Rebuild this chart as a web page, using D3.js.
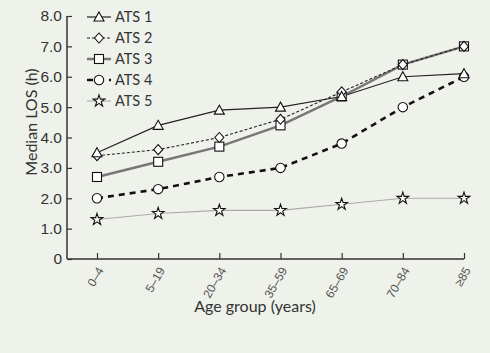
<!DOCTYPE html>
<html>
<head>
<meta charset="utf-8">
<script src="https://cdn.jsdelivr.net/npm/d3@7"></script>
<style>
  body { margin: 0; background: #eef2ea; }
  svg { display: block; font-family: Lato, "Open Sans", sans-serif; }
</style>
</head>
<body>
<div id="chart"></div>
<script>
const ageGroups = ["0–4", "5–19", "20–34", "35–59", "65–69", "70–84", "≥85"];
const yTicks = [0, 1, 2, 3, 4, 5, 6, 7, 8];
const ats1 = [3.5, 4.4, 4.9, 5.0, 5.35, 6.0, 6.1];
const ats2 = [3.4, 3.6, 4.0, 4.6, 5.5, 6.4, 7.0];
const ats3 = [2.7, 3.2, 3.7, 4.4, 5.35, 6.4, 7.0];
const ats4 = [2.0, 2.3, 2.7, 3.0, 3.8, 5.0, 6.0];
const ats5 = [1.3, 1.5, 1.6, 1.6, 1.8, 2.0, 2.0];

const series = [
  {name: "ATS 1", values: ats1, color: "#222", width: 1.2, dash: null, marker: "triangle"},
  {name: "ATS 2", values: ats2, color: "#222", width: 1.1, dash: "3,2", marker: "diamond"},
  {name: "ATS 3", values: ats3, color: "#777", width: 2.5, dash: null, marker: "square"},
  {name: "ATS 4", values: ats4, color: "#111", width: 2.6, dash: "6,5", marker: "circle"},
  {name: "ATS 5", values: ats5, color: "#aaa", width: 1.1, dash: null, marker: "star"}
];

const width = 490, height = 353;
const svg = d3.select("#chart").append("svg")
  .attr("width", width).attr("height", height);

const x = d3.scalePoint().domain(ageGroups).range([97, 464]);
const y = d3.scaleLinear().domain([0, 8]).range([259, 16]);

// axes, ticks point inward
const yAxis = svg.append("g")
  .attr("transform", "translate(67,0)")
  .call(d3.axisLeft(y).tickValues(yTicks).tickSize(-5)
    .tickFormat(d => d === 0 ? "0" : d3.format(".1f")(d)));
yAxis.select(".domain").attr("stroke", "#333").attr("stroke-width", 1.5)
  .attr("d", "M0,259V16");
yAxis.selectAll(".tick line").attr("stroke", "#333").attr("stroke-width", 1.2);
yAxis.selectAll(".tick text").attr("font-size", 15.5).attr("fill", "#333").attr("x", -5);

const xAxis = svg.append("g")
  .attr("transform", "translate(0,259)")
  .call(d3.axisBottom(x).tickSize(-6).tickSizeOuter(0));
xAxis.select(".domain").attr("stroke", "#333").attr("stroke-width", 1.5)
  .attr("d", "M67,0H464");
xAxis.selectAll(".tick line").attr("stroke", "#333").attr("stroke-width", 1.2);
xAxis.selectAll(".tick text")
  .attr("font-size", 12).attr("fill", "#555")
  .attr("text-anchor", "end").attr("dy", "0.35em")
  .attr("transform", "translate(3,9) rotate(-60)")
  .attr("y", 0).attr("x", 0);

svg.append("text")
  .attr("x", 255).attr("y", 312)
  .attr("text-anchor", "middle").attr("font-size", 16).attr("fill", "#333")
  .text("Age group (years)");

svg.append("text")
  .attr("transform", "translate(37,122) rotate(-90)")
  .attr("text-anchor", "middle").attr("font-size", 16).attr("fill", "#333")
  .text("Median LOS (h)");

// markers
const starPath = d3.symbol().type(d3.symbolStar).size(42)();
function drawMarker(g, type, cx, cy) {
  const m = g.append("g").attr("transform", `translate(${cx},${cy})`);
  const st = s => s.attr("fill", "#fff").attr("stroke", "#111").attr("stroke-width", 1.1);
  if (type === "triangle") st(m.append("path").attr("d", "M0,-5L5,4H-5Z"));
  else if (type === "diamond") st(m.append("path").attr("d", "M0,-5L4.5,0L0,5L-4.5,0Z"));
  else if (type === "square") st(m.append("rect").attr("x", -4.5).attr("y", -4.5).attr("width", 9).attr("height", 9));
  else if (type === "circle") st(m.append("circle").attr("r", 4.7));
  else if (type === "star") st(m.append("path").attr("d", starPath));
}

const line = d3.line().x((d, i) => x(ageGroups[i])).y(d => y(d));

// draw lines bottom-up so ATS 1 ends on top
series.slice().reverse().forEach(s => {
  svg.append("path")
    .datum(s.values)
    .attr("d", line)
    .attr("fill", "none")
    .attr("stroke", s.color)
    .attr("stroke-width", s.width)
    .attr("stroke-dasharray", s.dash);
});
series.slice().reverse().forEach(s => {
  const g = svg.append("g");
  s.values.forEach((v, i) => drawMarker(g, s.marker, x(ageGroups[i]), y(v)));
});

// legend
const legend = svg.append("g");
series.forEach((s, i) => {
  const ly = 17 + i * 21;
  legend.append("line")
    .attr("x1", 87).attr("x2", 111).attr("y1", ly).attr("y2", ly)
    .attr("stroke", s.color).attr("stroke-width", s.width)
    .attr("stroke-dasharray", s.dash);
  drawMarker(legend, s.marker, 99, ly);
  legend.append("text")
    .attr("x", 115).attr("y", ly).attr("dy", "0.35em")
    .attr("font-size", 14.5).attr("fill", "#333")
    .text(s.name);
});
</script>
</body>
</html>
